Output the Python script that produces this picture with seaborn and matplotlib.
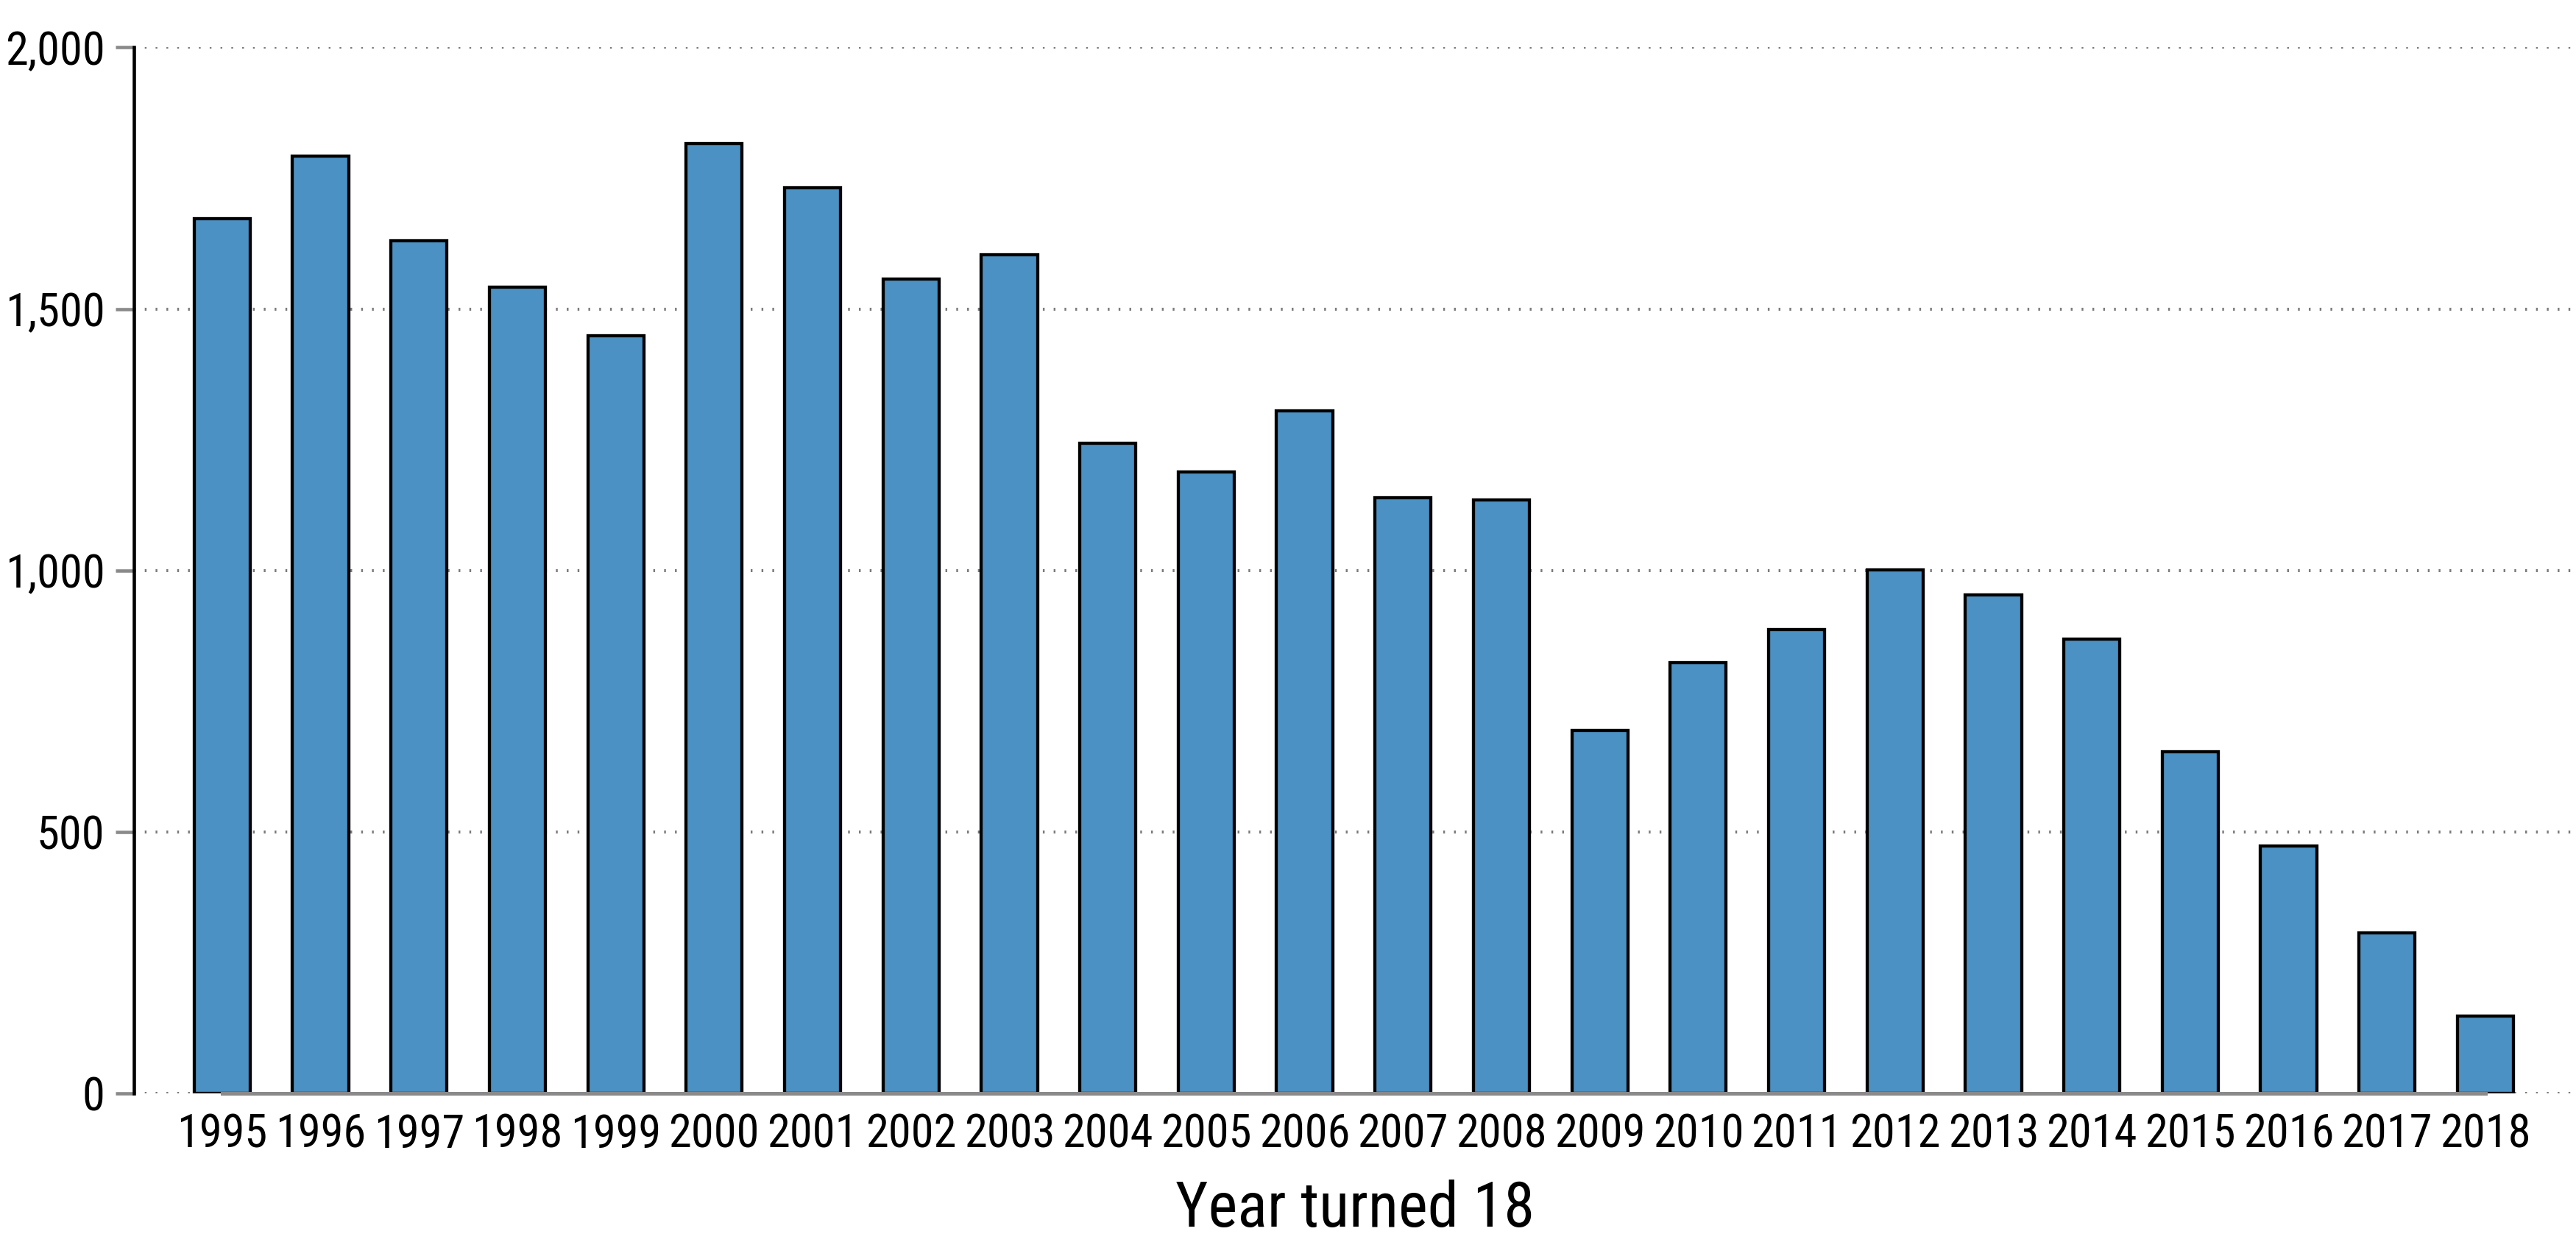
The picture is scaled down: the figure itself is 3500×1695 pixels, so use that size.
import matplotlib
matplotlib.use("Agg")
import matplotlib.pyplot as plt
import matplotlib.ticker as mticker
from matplotlib import font_manager
import seaborn as sns

# Values
years = [str(y) for y in range(1995, 2019)]
counts = [1673, 1792, 1630, 1542, 1449, 1816, 1732, 1558, 1604, 1244,
          1188, 1306, 1139, 1135, 695, 824, 888, 1001, 954, 869,
          654, 473, 307, 148]
y_ticks = [0, 500, 1000, 1500, 2000]
x_title = "Year turned 18"

# the reference uses a narrow Arial-like face; take one if there is one
installed = {f.name for f in font_manager.fontManager.ttflist}
narrow = [n for n in ['Liberation Sans Narrow', 'Arial Narrow', 'Roboto Condensed',
                      'Noto Sans Condensed', 'Open Sans Condensed', 'DejaVu Sans Condensed']
          if n in installed]
if narrow:
    tick_size, title_size = 45, 61
else:
    tick_size, title_size = 40, 58

sns.set_style("white")
plt.rcParams['font.family'] = narrow[:1] + ['Liberation Sans', 'DejaVu Sans']

fig = plt.figure(figsize=(35, 16.95), dpi=100)
ax = fig.add_axes([0.05186, 0.1236, 1 - 0.05186, 0.96195 - 0.1236])

sns.barplot(x=years, y=counts, color='#4b91c3', saturation=1,
            edgecolor='black', linewidth=3.1, width=0.57, ax=ax)

ax.set_xlim(-0.90, 23.92)
ax.set_ylim(0, 2000)
ax.set_yticks(y_ticks)
ax.yaxis.set_major_formatter(mticker.StrMethodFormatter('{x:,.0f}'))

# dotted horizontal grid
ax.set_axisbelow(True)
ax.yaxis.grid(True, linestyle=(0, (0.6, 3.05)), color='#7a7a7a', linewidth=2.9)
ax.xaxis.grid(False)

# axes lines
for s in ['top', 'right']:
    ax.spines[s].set_visible(False)
ax.spines['left'].set_color('black')
ax.spines['left'].set_linewidth(3.3)
ax.spines['bottom'].set_color('#8a8a8a')
ax.spines['bottom'].set_linewidth(3.6)
ax.spines['bottom'].set_bounds(0, len(years) - 1)

ax.tick_params(axis='x', length=0, pad=19, labelsize=tick_size, labelcolor='black')
ax.tick_params(axis='y', length=18, width=3.3, color='#8a8a8a', pad=10,
               labelsize=tick_size, labelcolor='black', left=True)

ax.set_xlabel(x_title, fontsize=title_size, labelpad=22, color='black')
ax.set_ylabel("")

plt.savefig("out.png", dpi=100)
